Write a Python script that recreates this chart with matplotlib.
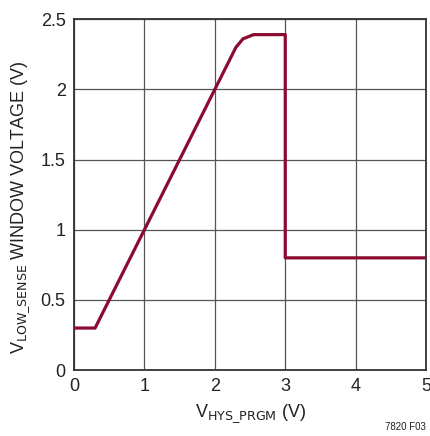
import matplotlib
matplotlib.use('Agg')
import matplotlib.pyplot as plt

# curve
v_hys = [0.0, 0.3, 0.5, 1.0, 2.0, 2.3, 2.4, 2.55, 3.0, 3.0, 5.0]
v_window = [0.3, 0.3, 0.5, 1.0, 2.0, 2.3, 2.36, 2.39, 2.39, 0.8, 0.8]

x_ticks = [0, 1, 2, 3, 4, 5]
y_ticks = [0, 0.5, 1, 1.5, 2, 2.5]
y_tick_labels = ['0', '0.5', '1', '1.5', '2', '2.5']

FONT = ['Liberation Sans Narrow', 'Liberation Sans', 'DejaVu Sans']
plt.rcParams['font.family'] = FONT
plt.rcParams['mathtext.fontset'] = 'custom'
plt.rcParams['mathtext.rm'] = 'Liberation Sans Narrow'

fig = plt.figure(figsize=(4.30, 4.36), dpi=100)
ax = fig.add_axes([0.172, 0.151, 0.819, 0.805])

ax.plot(v_hys, v_window, color='#8c0a30', linewidth=2.3, solid_joinstyle='round', zorder=3)

ax.set_xlim(0, 5)
ax.set_ylim(0, 2.5)
ax.set_xticks(x_ticks)
ax.set_yticks(y_ticks)
ax.set_yticklabels(y_tick_labels)
ax.tick_params(length=0, labelsize=13, colors='#222222', pad=6)
ax.grid(True, color='#555555', linewidth=0.9)
for s in ax.spines.values():
    s.set_color('#333333')
    s.set_linewidth(1.3)

ax.set_xlabel(r'V$_{\mathrm{HYS\_PRGM}}$ (V)', fontsize=13, color='#222222', labelpad=5)
ax.set_ylabel(r'V$_{\mathrm{LOW\_SENSE}}$ WINDOW VOLTAGE (V)', fontsize=13, color='#222222')
ax.yaxis.set_label_coords(-0.12, 0.465)

fig.text(0.99, 0.01, '7820 F03', ha='right', va='bottom', fontsize=7, color='#222222')

fig.savefig('out.png', dpi=100)
